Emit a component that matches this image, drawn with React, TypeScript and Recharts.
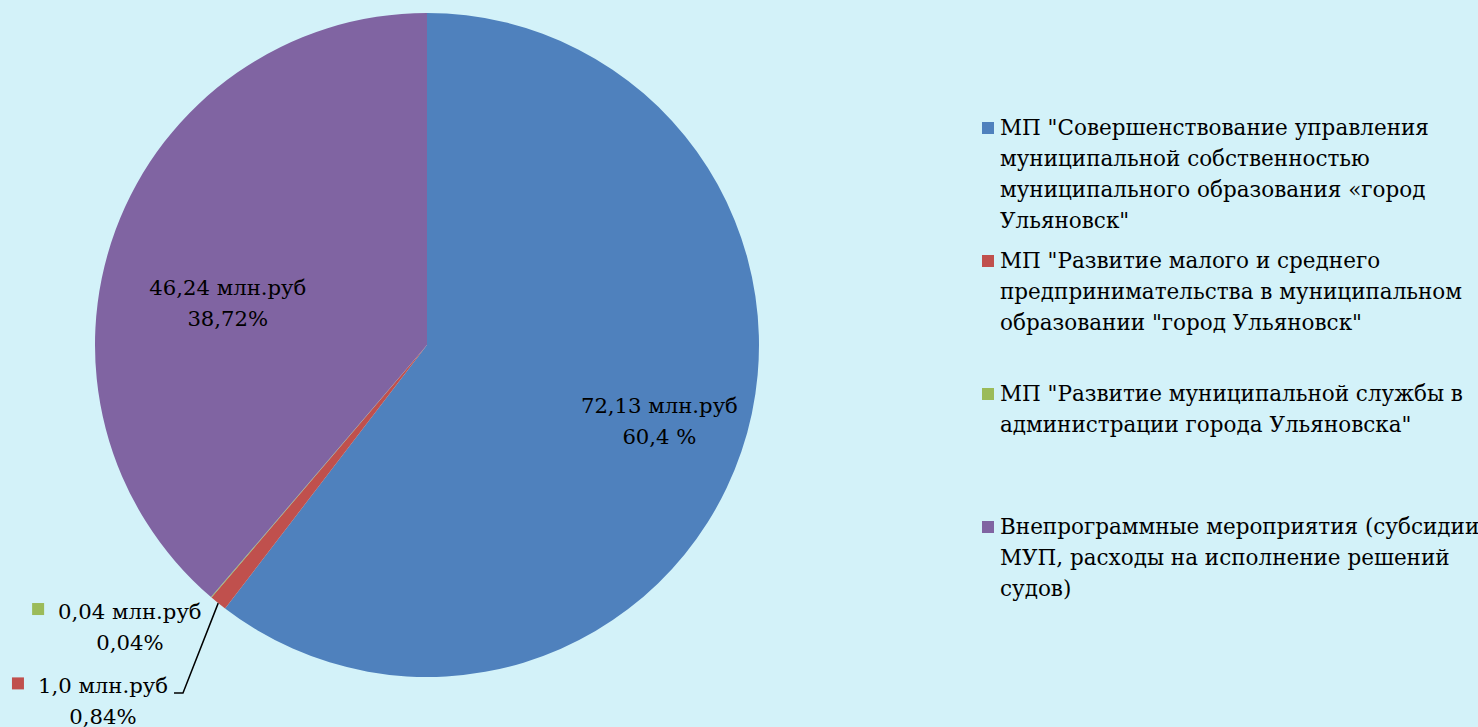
import { PieChart, Pie, Cell, Legend } from 'recharts'

// Budget split by municipal programme, mln rub
const categories = [
  'МП "Совершенствование управления\nмуниципальной собственностью\nмуниципального образования «город\nУльяновск"',
  'МП "Развитие малого и среднего\nпредпринимательства в муниципальном\nобразовании "город Ульяновск"',
  'МП "Развитие муниципальной службы в\nадминистрации города Ульяновска"',
  'Внепрограммные мероприятия (субсидии\nМУП, расходы на исполнение решений\nсудов)',
]
const amounts = [72.13, 1.0, 0.04, 46.24]
const amountLabels = ['72,13 млн.руб', '1,0 млн.руб', '0,04 млн.руб', '46,24 млн.руб']
const percentLabels = ['60,4 %', '0,84%', '0,04%', '38,72%']

const COLORS = ['#4F81BD', '#C0504D', '#9BBB59', '#8064A2']
const BG = '#D3F2F9'
const FONT = '"DejaVu Serif", "Liberation Serif", serif'
const FS = 21.2
const LEGEND_FS = 21.5

// label anchor, in units of the pie radius from its centre
const LABEL_POS = [
  { dx: 0.70, dy: 0.23, outside: false },
  { dx: -0.976, dy: 1.075, outside: true },
  { dx: -0.895, dy: 0.851, outside: true },
  { dx: -0.60, dy: -0.124, outside: false },
]

const data = categories.map((name, i) => ({ name, value: amounts[i] }))

let ctx: CanvasRenderingContext2D | null = null
const textWidth = (s: string) => {
  if (!ctx) ctx = document.createElement('canvas').getContext('2d')
  if (!ctx) return s.length * 11
  ctx.font = `${FS}px ${FONT}`
  return ctx.measureText(s).width
}

const renderLabel = (p: any) => {
  const { cx, cy, outerRadius: R, midAngle, index } = p
  const pos = LABEL_POS[index]
  const x = cx + pos.dx * R
  const y = cy + pos.dy * R
  const lh = 31
  const rad = (-midAngle * Math.PI) / 180
  const w = textWidth(amountLabels[index])
  return (
    <g key={`lbl-${index}`}>
      {index === 1 && (
        <polyline
          points={`${cx + R * Math.cos(rad)},${cy + R * Math.sin(rad)} ${cx - 0.735 * R},${cy + 1.048 * R} ${cx - 0.762 * R},${cy + 1.048 * R}`}
          fill="none" stroke="#000" strokeWidth={1.5}
        />
      )}
      {pos.outside && (
        <rect x={x - w / 2 - 26} y={y - lh / 2 - 9} width={12} height={12} fill={COLORS[index]} />
      )}
      <text x={x} y={y} textAnchor="middle" fontFamily={FONT} fontSize={FS} fill="#000">
        <tspan x={x} dy={-lh / 2 + 7}>{amountLabels[index]}</tspan>
        <tspan x={x} dy={lh}>{percentLabels[index]}</tspan>
      </text>
    </g>
  )
}

const LegendBox = ({ payload }: any) => {
  const items = [...(payload || [])].sort(
    (a: any, b: any) => categories.indexOf(a.value) - categories.indexOf(b.value),
  )
  return (
    <div style={{ fontFamily: FONT, fontSize: LEGEND_FS, lineHeight: '31px', color: '#000' }}>
      {items.map((e: any, i: number) => (
        <div key={i} style={{ height: 133, display: 'flex', alignItems: 'flex-start' }}>
          <span style={{ width: 12, height: 12, background: e.color, marginTop: 10, marginRight: 6, flex: 'none' }} />
          <span style={{ whiteSpace: 'pre' }}>{e.value}</span>
        </div>
      ))}
    </div>
  )
}

export default function App() {
  return (
    <div style={{ position: 'absolute', left: 0, top: 0, width: 1478, height: 727, background: BG, overflow: 'hidden' }}>
      <PieChart width={1478} height={727} margin={{ top: 0, right: 0, bottom: 0, left: 0 }}>
        <Pie
          data={data}
          dataKey="value"
          nameKey="name"
          cx={427}
          cy={345}
          outerRadius={332}
          startAngle={90}
          endAngle={-270}
          stroke="none"
          label={renderLabel}
          labelLine={false}
          isAnimationActive={false}
        >
          {data.map((d, i) => <Cell key={d.name} fill={COLORS[i]} />)}
        </Pie>
        <Legend
          layout="vertical"
          verticalAlign="top"
          align="right"
          content={<LegendBox />}
          wrapperStyle={{ position: 'absolute', left: 982, top: 112, width: 496 }}
        />
      </PieChart>
    </div>
  )
}
